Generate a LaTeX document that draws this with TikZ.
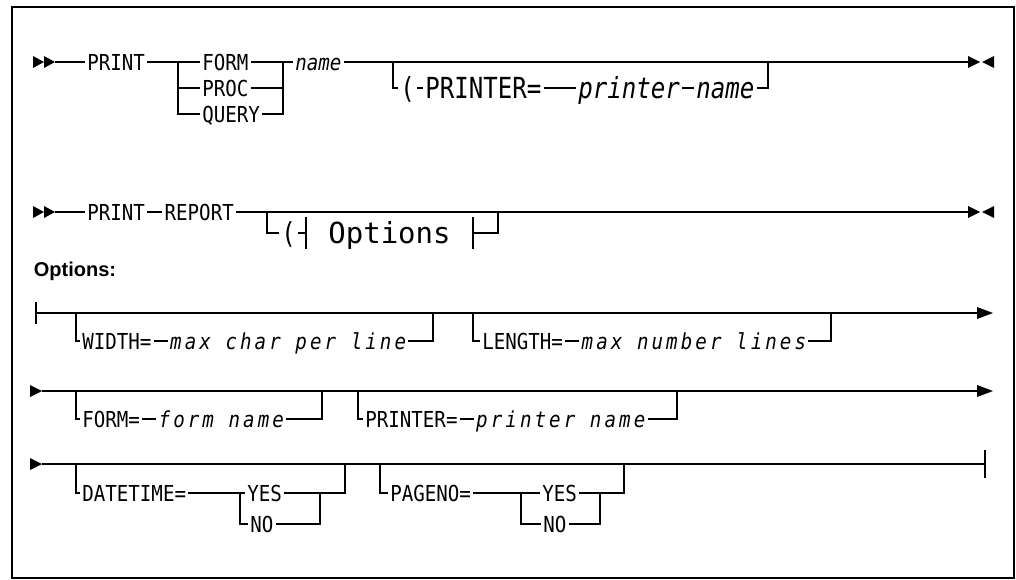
\documentclass[tikz,border=0pt]{standalone}
\usepackage{fontspec}
\setmainfont{DejaVu Sans Mono}
\newfontfamily\mono[FakeStretch=0.87]{DejaVu Sans Mono}
\newfontfamily\monow[FakeStretch=0.87,LetterSpace=14]{DejaVu Sans Mono}
\newfontfamily\monob[FakeStretch=0.83]{DejaVu Sans Mono}
\newfontfamily\monoo{DejaVu Sans Mono}
\newfontfamily\headfont{Liberation Sans}
\begin{document}
\begin{tikzpicture}[x=1pt,y=-1pt, line width=1.7pt,
  t/.style={anchor=west, inner xsep=1.5pt, inner ysep=0pt, text height=16pt, text depth=0pt, font=\mono\fontsize{22}{22}\selectfont},
  ti/.style={t, font=\mono\itshape\fontsize{22}{22}\selectfont},
  tw/.style={t, font=\monow\itshape\fontsize{22}{22}\selectfont},
  tb/.style={t, text height=21pt, font=\monob\fontsize{29}{29}\selectfont},
  tbi/.style={tb, font=\monob\itshape\fontsize{29}{29}\selectfont},
  big/.style={anchor=center, inner sep=0pt, text height=21pt, text depth=0pt, font=\monoo\fontsize{29}{29}\selectfont},
  head/.style={anchor=west, inner sep=0pt, font=\headfont\bfseries\fontsize{20}{20}\selectfont}]
\useasboundingbox (0,0) rectangle (1016,579);
\draw[line width=1.8pt] (12,7) rectangle (1014,578);
% ---------------- Row 1
\fill (33,56) -- (44,62) -- (33,68) -- cycle;
\fill (44,56) -- (55,62) -- (44,68) -- cycle;
\coordinate (s1) at (55,62);
\node[t] (print1) at (85,62) {PRINT};
\node[t] (form) at (200,62) {FORM};
\node[t] (proc) at (200,88) {PROC};
\node[t] (query) at (200,114) {QUERY};
\node[ti] (name1) at (293,62) {name};
\node[tb] (lpar1) at (398,88) {(};
\node[tb] (prt1) at (423,88) {PRINTER=};
\node[tbi] (pr1) at (576,88) {printer};
\node[tbi] (nm1) at (694,88) {name};
\coordinate (j1a) at (178,62);
\coordinate (j1b) at (283,62);
\coordinate (j1c) at (393,62);
\coordinate (j1d) at (768,62);
\coordinate (e1) at (968,62);
\draw (s1) -- (print1.west);
\draw (print1.east) -- (form.west);
\draw (j1a) |- (proc.west);
\draw (j1a) |- (query.west);
\draw (form.east) -- (name1.west);
\draw (proc.east) -| (j1b);
\draw (query.east) -| (j1b);
\draw (name1.east) -- (e1);
\draw (j1c) |- (lpar1.west);
\draw (lpar1.east) -- (prt1.west);
\draw (prt1.east) -- (pr1.west);
\draw (pr1.east) -- (nm1.west);
\draw (nm1.east) -| (j1d);
\fill (968,56) -- (980,62) -- (968,68) -- cycle;
\fill (994,56) -- (982,62) -- (994,68) -- cycle;
% ---------------- Row 2
\fill (33,206) -- (44,212) -- (33,218) -- cycle;
\fill (44,206) -- (55,212) -- (44,218) -- cycle;
\coordinate (s2) at (55,212);
\node[t] (print2) at (85,212) {PRINT};
\node[t] (report) at ([xshift=15pt]print2.east) {REPORT};
\node[tb] (lpar2) at (279,233) {(};
\node[big] (opts) at (389.5,233) {Options};
\coordinate (j2a) at (267,212);
\coordinate (b2a) at (306,233);
\coordinate (b2b) at (473,233);
\coordinate (j2b) at (498,212);
\coordinate (e2) at (968,212);
\draw (s2) -- (print2.west);
\draw (print2.east) -- (report.west);
\draw (report.east) -- (e2);
\draw (j2a) |- (lpar2.west);
\draw (lpar2.east) -- (b2a);
\draw (306,217) -- (306,249);
\draw (473,217) -- (473,249);
\draw (b2b) -| (j2b);
\fill (968,206) -- (980,212) -- (968,218) -- cycle;
\fill (994,206) -- (982,212) -- (994,218) -- cycle;
% ---------------- Options heading
\node[head] (ohead) at (33,271) {Options:};
% ---------------- Row 3
\coordinate (s3) at (36,313);
\coordinate (e3) at (977,313);
\draw (36,302) -- (36,324);
\draw (s3) -- (e3);
\fill (977,307) -- (993,313) -- (977,319) -- cycle;
\node[t] (width) at (80,341) {WIDTH=};
\node[tw] (mcpl) at ([xshift=14pt]width.east) {max char per line};
\node[t] (length) at (480,341) {LENGTH=};
\node[tw] (mnl) at ([xshift=14pt]length.east) {max number lines};
\coordinate (j3a) at (76,313);
\coordinate (j3b) at (433,313);
\coordinate (j3c) at (473,313);
\coordinate (j3d) at (831,313);
\draw (j3a) |- (width.west);
\draw (width.east) -- (mcpl.west);
\draw (mcpl.east) -| (j3b);
\draw (j3c) |- (length.west);
\draw (length.east) -- (mnl.west);
\draw (mnl.east) -| (j3d);
% ---------------- Row 4
\fill (30,385) -- (42,391) -- (30,397) -- cycle;
\coordinate (s4) at (42,391);
\coordinate (e4) at (977,391);
\draw (s4) -- (e4);
\fill (977,385) -- (993,391) -- (977,397) -- cycle;
\node[t] (form2) at (80,419) {FORM=};
\node[tw] (fn) at ([xshift=14pt]form2.east) {form name};
\node[t] (prt2) at (363,419) {PRINTER=};
\node[tw] (pn) at ([xshift=14pt]prt2.east) {printer name};
\coordinate (j4a) at (76,391);
\coordinate (j4b) at (322,391);
\coordinate (j4c) at (358,391);
\coordinate (j4d) at (677,391);
\draw (j4a) |- (form2.west);
\draw (form2.east) -- (fn.west);
\draw (fn.east) -| (j4b);
\draw (j4c) |- (prt2.west);
\draw (prt2.east) -- (pn.west);
\draw (pn.east) -| (j4d);
% ---------------- Row 5
\fill (30,458) -- (42,464) -- (30,470) -- cycle;
\coordinate (s5) at (42,464);
\coordinate (e5) at (985,464);
\draw (s5) -- (e5);
\draw (985,450) -- (985,478);
\node[t] (dt) at (80,493) {DATETIME=};
\node[t] (yes1) at (245,493) {YES};
\node[t] (no1) at (248,524) {NO};
\node[t] (pg) at (388,493) {PAGENO=};
\node[t] (yes2) at (540,493) {YES};
\node[t] (no2) at (541,524) {NO};
\coordinate (j5a) at (76,464);
\coordinate (j5b) at (240,493);
\coordinate (j5c) at (320,493);
\coordinate (j5d) at (345,464);
\coordinate (j5e) at (380,464);
\coordinate (j5f) at (521,493);
\coordinate (j5g) at (600,493);
\coordinate (j5h) at (624,464);
\draw (j5a) |- (dt.west);
\draw (dt.east) -- (yes1.west);
\draw (j5b) |- (no1.west);
\draw (no1.east) -| (j5c);
\draw (yes1.east) -| (j5d);
\draw (j5e) |- (pg.west);
\draw (pg.east) -- (yes2.west);
\draw (j5f) |- (no2.west);
\draw (no2.east) -| (j5g);
\draw (yes2.east) -| (j5h);
\end{tikzpicture}
\end{document}
